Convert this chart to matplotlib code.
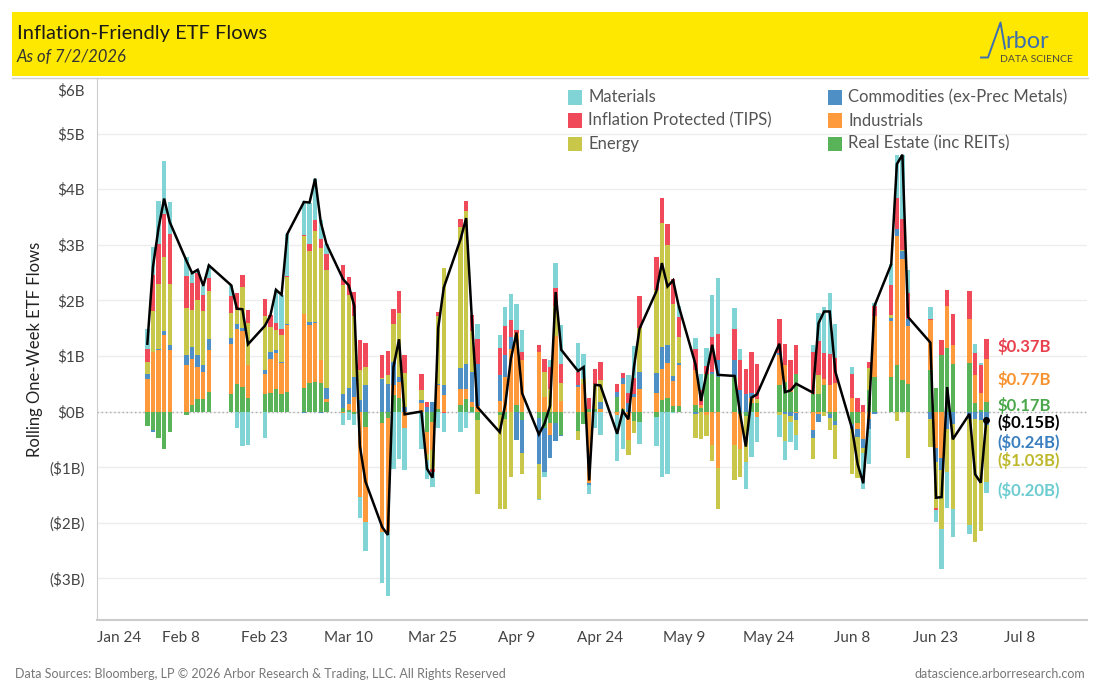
import numpy as np
import pandas as pd
import matplotlib
matplotlib.use("Agg")
import matplotlib.pyplot as plt
import matplotlib.dates as mdates
import matplotlib.transforms as mtransforms
from matplotlib.patches import Rectangle
from matplotlib.lines import Line2D

plt.rcParams['font.family'] = ['Lato', 'DejaVu Sans']

# trading days shown (business days minus market holidays)
holidays = ['2026-02-16', '2026-04-03', '2026-05-25', '2026-06-19']
dates = pd.bdate_range('2026-02-02', '2026-07-02')
dates = dates[~dates.isin(pd.to_datetime(holidays))]

materials = [0.36, 0.51, 0.77, 0.95, 0.57,
             0.34, 0.17, 0.06, 0.17, 0.22,
             0.19, -0.29, -0.62, -0.60,
             -0.48, 0.00, 0.59, 0.61, 0.75,
             0.61, 0.75, 0.75, 0.34, 0.18,
             -0.23, -0.15, -0.20, -0.38, -0.52,
             -0.93, -1.14, -1.04, -0.86, -0.76,
             -0.67, -0.33, -0.27, -0.29, -0.34,
             -0.36, -0.30, -0.03, 0.27,
             0.23, 0.34, 0.48, 0.47, 0.38,
             -0.02, -0.08, 0.12, 0.46, 0.70,
             0.52, 0.45, -0.16, -0.29, -0.42,
             -0.82, -0.68, 0.32, 0.57, -0.41,
             -0.52, -1.18, -1.13, -0.02, 0.20,
             0.21, 0.30, 0.32, 0.75, 1.02,
             0.39, 0.20, -0.49, -0.82, -0.45,
             -0.39, -0.34, -0.37, -0.26,
             0.13, 0.50, 0.83, 1.10, 0.61,
             0.13, 0.00, -0.65, -0.63, 0.06,
             0.38, 0.77, 1.15, 0.40,
             0.22, -0.20, -0.72, -0.66, -0.50,
             -0.16, 0.16, 0.04, -0.196]

tips = [0.22, 0.65, 0.71, 0.78, 0.90,
        0.57, 0.50, 0.48, 0.29, 0.25,
        0.31, 0.31, 0.22, 0.23,
        0.30, 0.21, 0.14, 0.11, 0.02,
        0.02, 0.13, 0.20, 0.16, 0.29,
        0.36, 0.32, 0.43, 0.54, 0.43,
        0.41, 0.43, 0.27, 0.38, 0.32,
        0.29, 0.10, -0.06, 0.08, -0.02,
        0.14, 0.18, 0.29, 0.45,
        0.50, 0.52, 0.30, 0.05, 0.16,
        0.11, 0.23, 0.41, 0.33, 0.34,
        0.25, 0.00, 0.20, 0.27, 0.32,
        0.14, 0.09, 0.18, 0.29, 0.57,
        0.59, 0.46, 0.38, 0.45, 0.36,
        0.38, 0.27, 0.14, 0.62, 0.46,
        0.55, 0.54, 0.46, 0.73, 0.64,
        0.61, 0.38, 0.54, 0.52,
        0.75, 0.61, 0.47, 0.56, 0.45,
        0.43, 0.24, 0.11, 0.11, 0.17,
        0.54, 0.56, 0.56, 0.47,
        0.02, -0.05, 0.27, 0.29, 0.56,
        0.50, 0.40, 0.49, 0.371]

energy = [0.22, 0.73, 1.17, 1.34, 1.11,
          0.86, 0.66, 1.00, 0.97, 0.86,
          0.45, 0.25, 0.74, 0.75,
          0.98, 0.45, 0.36, 0.48, 0.84,
          1.41, 1.27, 1.63, 2.02, 2.12,
          1.96, 1.68, 1.09, 0.55, 0.34,
          0.02, 0.16, 0.67, 1.16, 0.60,
          0.18, -0.12, -0.33, 1.21, 2.12,
          2.54, 2.75, 0.73, -1.34,
          -1.68, -1.61, -1.17, 0.00, -0.39,
          -0.63, 0.46, 0.40, 0.54, 0.32,
          -0.16, 0.09, 0.00, 0.46, 0.39,
          0.00, 0.00, -0.28, -0.21, 0.79,
          1.50, 2.23, 1.80, 1.29, 0.46,
          -0.43, -0.49, -0.37, -0.29, -0.74,
          -0.63, -0.50, -0.83, 0.00, 0.07,
          -0.06, -0.48, -0.10, -0.27,
          -0.38, 0.34, -0.08, -0.21, -0.61,
          -0.80, -0.73, -0.09, 0.40, 0.00,
          0.05, -0.17, 0.02, -0.84,
          -0.50, -0.83, -1.06, -0.77, -1.54,
          -1.92, -2.21, -1.99, -1.028]

commodities = [0.09, -0.02, 0.02, 0.07, 0.09,
               0.18, 0.22, 0.20, 0.11, 0.20,
               0.11, 0.09, 0.05, -0.01,
               0.06, 0.13, 0.04, 0.02, 0.02,
               -0.02, 0.05, 0.02, -0.03, 0.20,
               0.25, 0.29, 0.36, 0.20, 0.47,
               0.58, 0.50, 0.43, 0.09, 0.09,
               0.05, 0.08, 0.17, 0.02, 0.18,
               0.38, 0.45, 0.54, 0.75,
               0.46, 0.39, 0.21, -0.51, -0.59,
               -0.83, -0.80, -0.40, -0.33, -0.02,
               0.02, 0.00, -0.04, 0.00, 0.13,
               0.09, 0.11, 0.15, 0.05, 0.32,
               0.36, 0.39, 0.32, 0.09, 0.05,
               -0.05, 0.00, 0.00, 0.05, 0.30,
               0.30, 0.38, 0.31, 0.09, 0.00,
               0.04, -0.05, -0.08, -0.14,
               -0.14, -0.13, 0.00, -0.07, -0.08,
               -0.09, -0.14, -0.16, -0.18, -0.05,
               0.05, 0.14, 0.14, 0.13,
               -0.14, -0.25, -0.22, -0.31, -0.22,
               -0.13, -0.13, -0.16, -0.238]

industrials = [0.59, 1.07, 1.11, 1.37, 1.10,
               0.83, 0.83, 0.59, 0.49, 0.74,
               0.90, 0.99, 1.00, 0.59,
               0.37, 0.61, 0.66, 0.57, 1.20,
               1.32, 1.04, 1.05, 0.41, 0.05,
               -0.02, 0.11, 0.27, -1.53, -1.70,
               -1.95, -2.05, 0.18, 0.29, -0.30,
               0.15, -0.39, -0.52, 0.43, 0.29,
               0.29, 0.18, 0.09, 0.10,
               0.19, 0.63, 1.13, 1.30, 0.92,
               1.08, 0.26, -0.23, 1.35, 0.19,
               0.45, 0.49, -1.29, 0.00, 0.05,
               -0.07, 0.45, -0.51, 0.27, 0.40,
               0.33, 0.57, 0.64, 0.45, 0.73,
               0.63, 0.05, -0.07, -0.60, -1.01,
               -0.60, -0.62, 0.00, 0.10, -0.10,
               0.55, 0.30, 0.04, -0.02,
               -0.34, -0.05, 0.11, 0.47, 0.52,
               0.25, -0.12, -0.50, -0.13, 1.10,
               1.00, 2.32, 2.19, 1.04,
               0.90, -0.65, -0.83, 0.74, 0.34,
               0.79, 0.49, 0.32, 0.768]

real_estate = [-0.26, -0.34, -0.48, -0.68, -0.36,
               -0.07, 0.11, 0.22, 0.23, 0.36,
               0.31, 0.50, 0.45, 0.25,
               0.31, 0.33, 0.40, 0.31, 0.36,
               0.43, 0.52, 0.54, 0.51, 0.18,
               0.06, 0.02, -0.05, 0.00, -0.28,
               -0.21, -0.12, 0.29, 0.24, 0.00,
               0.00, -0.37, -0.18, 0.05, 0.00,
               0.11, 0.22, 0.08, -0.15,
               -0.07, -0.14, 0.00, 0.11, -0.15,
               -0.12, -0.29, -0.20, -0.20, -0.42,
               -0.35, -0.23, 0.05, 0.04, 0.00,
               0.26, 0.04, 0.00, -0.17, -0.18,
               -0.10, 0.20, 0.24, 0.10, 0.10,
               0.11, 0.06, 0.68, 0.67, 0.63,
               0.63, -0.05, -0.08, 0.15, 0.15,
               0.47, 0.54, 0.35, 0.67,
               0.32, 0.32, 0.47, -0.05, -0.17,
               -0.23, -0.20, 0.00, 0.38, 0.62,
               0.63, 0.83, 0.56, 0.50,
               0.74, 0.43, 1.02, 1.15, 0.86,
               0.88, 0.16, 0.02, 0.170]

names = ['Materials', 'Inflation Protected (TIPS)', 'Energy',
         'Commodities (ex-Prec Metals)', 'Industrials', 'Real Estate (inc REITs)']
colors = ['#80D4D6', '#F04A5A', '#C9C74A', '#4E8FC6', '#FF9A3C', '#59B359']
label_colors = ['#6CCCD0', '#E8414D', '#BDB82C', '#3A7FBF', '#F7922F', '#4AA84A']
series = [materials, tips, energy, commodities, industrials, real_estate]

# stacking order from the zero line outwards
stack_order = [5, 4, 3, 2, 1, 0]

fig = plt.figure(figsize=(11, 7), dpi=100)
W, H = 1100, 700

def fx(px):
    return px / W

def fy(py):
    return 1 - py / H

# yellow header
fig.add_artist(Rectangle((fx(12), fy(76)), fx(1076), 64 / H, transform=fig.transFigure,
                         facecolor='#FFE800', edgecolor='none'))
fig.add_artist(Line2D([fx(12), fx(1088)], [fy(77.5), fy(77.5)], transform=fig.transFigure,
                      color='#D0D0D0', lw=1))
fig.text(fx(17), fy(33), 'Inflation-Friendly ETF Flows', fontsize=14.5, color='#1A1A1A',
         va='center', ha='left')
fig.text(fx(17), fy(57), 'As of 7/2/2026', fontsize=12, color='#333333',
         va='center', ha='left', style='italic')

# logo
fig.add_artist(Line2D([fx(981), fx(988), fx(1000.5), fx(1005)],
                      [fy(57.5), fy(57.5), fy(22.5), fy(48.5)],
                      transform=fig.transFigure, color='#3D6EB0', lw=1.4))
fig.text(fx(1005), fy(48.5), 'rbor', fontsize=17, color='#3D6EB0', va='baseline', ha='left')
fig.text(fx(1000), fy(59), 'DATA SCIENCE', fontsize=7.5, color='#4A4A40', va='center', ha='left')

ax = fig.add_axes([fx(97), fy(620), fx(990), 542 / H])

x = mdates.date2num(dates)
pos_bottom = np.zeros(len(x))
neg_bottom = np.zeros(len(x))
for k in stack_order:
    v = np.array(series[k])
    p = np.where(v > 0, v, 0)
    n = np.where(v < 0, v, 0)
    ax.bar(x, p, bottom=pos_bottom, width=0.78, color=colors[k], linewidth=0, zorder=2)
    ax.bar(x, n, bottom=neg_bottom, width=0.78, color=colors[k], linewidth=0, zorder=2)
    pos_bottom += p
    neg_bottom += n

net = np.sum(np.array(series), axis=0)
ax.plot(x, net, color='black', lw=1.8, zorder=4, solid_joinstyle='miter')
ax.plot(x[-1], net[-1], 'o', color='black', ms=4, zorder=5)

ax.axhline(0, color='#AAAAAA', lw=1, ls=(0, (1, 2)), zorder=1)
ax.set_ylim(-3.75, 6.0)
ax.set_xlim(mdates.date2num(pd.Timestamp('2026-01-24')), mdates.date2num(pd.Timestamp('2026-07-20')))

yticks = np.arange(-3, 7)
ax.set_yticks(yticks)
ax.set_yticklabels([f'${t}B' if t >= 0 else f'(${-t}B)' for t in yticks])
ax.yaxis.grid(True, color='#EDEDED', lw=1, zorder=0)
ax.set_axisbelow(True)
xt = pd.date_range('2026-01-24', '2026-07-08', freq='15D')
ax.set_xticks(mdates.date2num(xt))
ax.set_xticklabels([f'{d:%b} {d.day}' for d in xt])
ax.tick_params(axis='both', length=0, labelsize=11, labelcolor='#444444')
ax.tick_params(axis='x', pad=8)
ax.tick_params(axis='y', pad=9)
ax.get_xticklabels()[0].set_ha('left')
top_lab = ax.get_yticklabels()[-1]
top_lab.set_transform(top_lab.get_transform() +
                      mtransforms.ScaledTranslation(0, -12 / 100, fig.dpi_scale_trans))
for s in ['top', 'right']:
    ax.spines[s].set_visible(False)
ax.spines['left'].set_color('#CCCCCC')
ax.spines['bottom'].set_color('#CCCCCC')
ax.spines['bottom'].set_linewidth(1.5)
ax.set_ylabel('Rolling One-Week ETF Flows', fontsize=12, color='#222222', labelpad=4)

# end-of-series value labels
label_y = [-1.42, 1.17, -0.88, -0.56, 0.58, 0.11]
label_x = mdates.date2num(pd.Timestamp('2026-07-04'))
for k in range(6):
    v = series[k][-1]
    txt = f'${v:.2f}B' if v >= 0 else f'(${-v:.2f}B)'
    ax.text(label_x, label_y[k], txt, color=label_colors[k], fontsize=12,
            fontweight='bold', va='center', ha='left')
ax.text(label_x, -0.2, f'(${-net[-1]:.2f}B)', color='black', fontsize=12,
        fontweight='bold', va='center', ha='left')

# legend
for i, name in enumerate(names):
    col, row = i // 3, i % 3
    lx = 568 + col * 260
    ly = 97.5 + row * 23
    fig.add_artist(Rectangle((fx(lx), fy(ly + 7)), 14 / W, 14 / H, transform=fig.transFigure,
                             facecolor=colors[i], edgecolor='none'))
    fig.text(fx(lx + 20), fy(ly), name, fontsize=12, color='#555555', va='center', ha='left')

fig.text(fx(15), fy(674), 'Data Sources: Bloomberg, LP \u00a9 2026 Arbor Research & Trading, LLC. All Rights Reserved',
         fontsize=9, color='#777777', va='center', ha='left')
fig.text(fx(1085), fy(674), 'datascience.arborresearch.com', fontsize=9, color='#777777',
         va='center', ha='right')

fig.savefig('out.png', dpi=100)
